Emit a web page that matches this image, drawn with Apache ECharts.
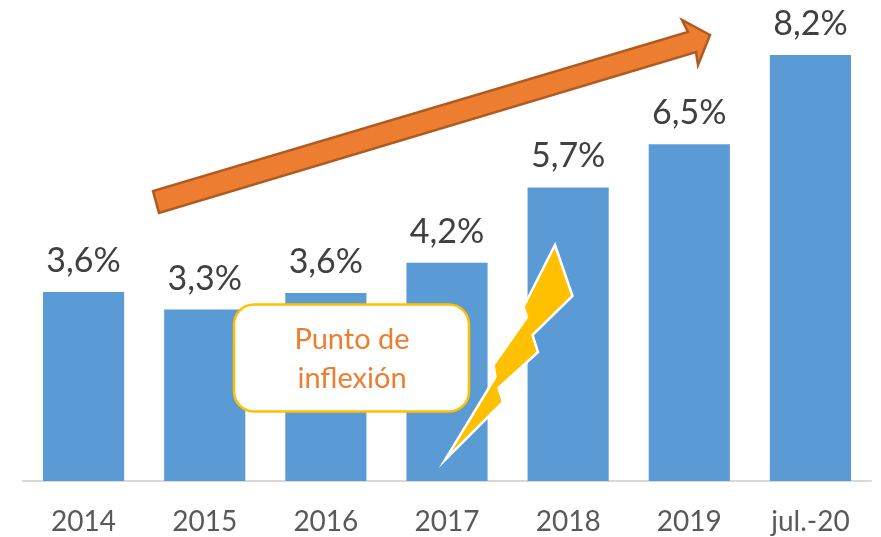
<!DOCTYPE html>
<html>
<head>
<meta charset="utf-8">
<style>html,body{margin:0;padding:0;background:#fff}#c{width:881px;height:537px}</style>
<script src="https://cdn.jsdelivr.net/npm/echarts@6/dist/echarts.min.js"></script>
</head>
<body>
<div id="c"></div>
<script>
const categories = ['2014','2015','2016','2017','2018','2019','jul.-20'];
const values = [3.64,3.3,3.62,4.2,5.65,6.48,8.2];
const chart = echarts.init(document.getElementById('c'), null, {renderer:'canvas'});
const arrowShape = [[153,191],[159,213],[696,52],[698,65],[710,35],[682,20],[688,32]];
const boltShape = [[555,245],[572.5,296],[532.5,335],[538,352],[498.5,388],[503,402],[445,460],[495.5,377],[493.5,365],[527,317],[523.5,307]];
chart.setOption({
  animation:false,
  grid:{left:23,right:10,top:55,bottom:56},
  xAxis:{type:'category',data:categories,
    axisLine:{lineStyle:{color:'#D9D9D9',width:2}},axisTick:{show:false},
    axisLabel:{color:'#595959',fontFamily:'Lato',fontSize:28,margin:27,interval:0}},
  yAxis:{type:'value',min:0,max:8.2,show:false,splitLine:{show:false}},
  series:[{type:'bar',data:values,barWidth:'67%',
    itemStyle:{color:'#5B9BD5'},
    label:{show:true,position:'top',distance:14,color:'#404040',fontFamily:'Lato',fontSize:34,
      formatter:p=>p.value.toFixed(1).replace('.',',')+'%'}}],
  graphic:[
    {type:'polygon',shape:{points:arrowShape},z:10,
      style:{fill:'#ED7D31',stroke:'#AE5A21',lineWidth:2.5,lineJoin:'miter'}},
    {type:'polygon',shape:{points:boltShape},z:10,
      style:{fill:'#FFC000',stroke:'#fff',lineWidth:2.5,lineJoin:'miter',miterLimit:20}},
    {type:'rect',shape:{x:234,y:304.5,width:235,height:107,r:20},z:10,
      style:{fill:'#fff',stroke:'#FFC000',lineWidth:2.5}},
    {type:'text',x:352,y:359,z:11,
      style:{text:'Punto de\ninflexión',fill:'#ED7D31',font:'29px Lato',lineHeight:39,align:'center',verticalAlign:'middle'}}
  ]
});
</script>
</body>
</html>
